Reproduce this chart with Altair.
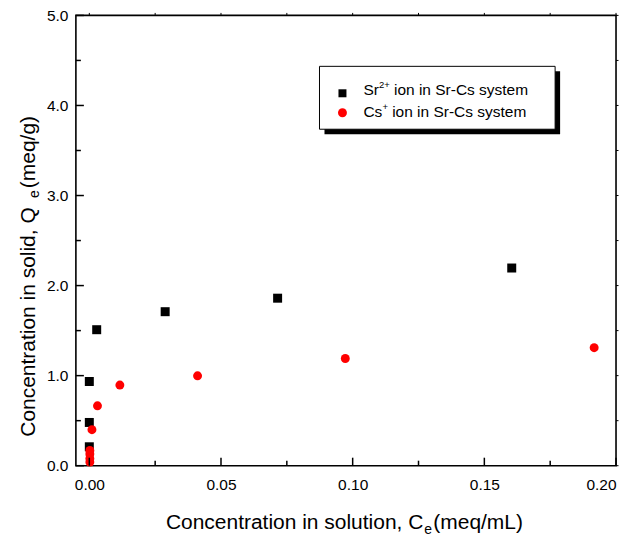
import altair as alt
import pandas as pd

# ---- data ----
sr_x = [0.0, 0.0, 0.0, 0.0028, 0.0288, 0.0715, 0.1604]
sr_y = [0.21, 0.48, 0.935, 1.51, 1.71, 1.86, 2.195]
cs_x = [0.0002, 0.0002, 0.0002, 0.0002, 0.0010, 0.0031, 0.0116, 0.0411, 0.0972, 0.1917]
cs_y = [0.04, 0.08, 0.13, 0.17, 0.40, 0.665, 0.895, 0.998, 1.19, 1.31]

x_major = [0.0, 0.05, 0.10, 0.15, 0.20]
x_minor = [0.025, 0.075, 0.125, 0.175]
y_major = [0.0, 1.0, 2.0, 3.0, 4.0, 5.0]
y_minor = [0.5, 1.5, 2.5, 3.5, 4.5]
x_all = sorted(x_major + x_minor)
y_all = sorted(y_major + y_minor)

W, H = 541, 451
FONT = "Liberation Sans"

xs = alt.Scale(domain=[-0.0051, 0.2], nice=False, zero=False)
ys = alt.Scale(domain=[0, 5], nice=False, zero=False)
xax = alt.Axis(values=x_major, format=".2f", title=None, ticks=False, domain=False, grid=False,
               labelFont=FONT, labelFontSize=15.5, labelColor="black", labelPadding=12)
yax = alt.Axis(values=y_major, format=".1f", title=None, ticks=False, domain=False, grid=False,
               labelFont=FONT, labelFontSize=15.5, labelColor="black", labelPadding=8)

sr = pd.DataFrame({"x": sr_x, "y": sr_y})
cs = pd.DataFrame({"x": cs_x, "y": cs_y})

sr_layer = alt.Chart(sr).mark_square(size=81, color="black", opacity=1).encode(
    x=alt.X("x:Q", scale=xs, axis=xax),
    y=alt.Y("y:Q", scale=ys, axis=yax),
)
cs_layer = alt.Chart(cs).mark_circle(size=80, color="#ff0000", opacity=1).encode(
    x=alt.X("x:Q", scale=xs, axis=xax),
    y=alt.Y("y:Q", scale=ys, axis=yax),
)

def xticks(vals, length, top=False):
    y0, y1 = (0, -length) if top else (H, H - length)
    return alt.Chart(pd.DataFrame({"x": vals})).mark_rule(
        color="black", strokeWidth=1 if top else 1.5).encode(
        x=alt.X("x:Q", scale=xs, axis=xax), y=alt.value(y0), y2=alt.value(y1))

def yticks(vals, length, right=False):
    x0, x1 = (W, W + length) if right else (0, length)
    return alt.Chart(pd.DataFrame({"y": vals})).mark_rule(
        color="black", strokeWidth=1 if right else 1.5).encode(
        y=alt.Y("y:Q", scale=ys, axis=yax), x=alt.value(x0), x2=alt.value(x1))

def txt(s, px, py, size, angle=0, align="left"):
    return alt.Chart(pd.DataFrame({"t": [s]})).mark_text(
        font=FONT, fontSize=size, color="black", align=align, baseline="alphabetic", angle=angle
    ).encode(text="t:N", x=alt.value(px), y=alt.value(py))

# legend box with shadow
shadow = alt.Chart(pd.DataFrame({"s": [1]})).mark_rect(color="black", opacity=1).encode(
    x=alt.value(249), x2=alt.value(485), y=alt.value(56), y2=alt.value(119))
box = alt.Chart(pd.DataFrame({"b": [2]})).mark_rect(fill="white", stroke="black", strokeWidth=1).encode(
    x=alt.value(244), x2=alt.value(480), y=alt.value(51), y2=alt.value(114))
leg_sq = alt.Chart(pd.DataFrame({"a": [0]})).mark_square(size=64, color="black", opacity=1).encode(
    x=alt.value(267), y=alt.value(78))
leg_ci = alt.Chart(pd.DataFrame({"a": [0]})).mark_circle(size=80, color="#ff0000", opacity=1).encode(
    x=alt.value(267), y=alt.value(97.5))

texts = [
    txt("Sr", 288, 80, 15.5), txt("2+", 303.5, 73, 9.5), txt("ion in Sr-Cs system", 318.6, 80, 15.5),
    txt("Cs", 288, 102, 15.5), txt("+", 307, 95, 9.5), txt("ion in Sr-Cs system", 316.8, 102, 15.5),
    # x title
    txt("Concentration in solution, C", 348, 514, 21, align="right"),
    txt("e", 349, 519, 14),
    txt("(meq/mL)", 358, 514, 21),
    # y title (rotated)
    txt("Concentration in solid, Q", -41, 422, 21, angle=270),
    txt("e", -37, 183, 14, angle=270),
    txt("(meq/g)", -41, 173, 21, angle=270),
]

chart = alt.layer(
    sr_layer, cs_layer,
    xticks(x_major, 8), xticks(x_minor, 5), yticks(y_major, 8), yticks(y_minor, 5),
    xticks(x_all, 2.5, top=True), yticks(y_all, 2.5, right=True),
    shadow, box, leg_sq, leg_ci, *texts,
).properties(
    width=W, height=H, background="white",
    autosize=alt.AutoSizeParams(type="none"),
    padding={"left": 68, "top": 7, "right": 12, "bottom": 70},
).configure_view(stroke="black", strokeWidth=1.6)

chart.save("out.html", embed_options={"renderer": "svg", "actions": False})
